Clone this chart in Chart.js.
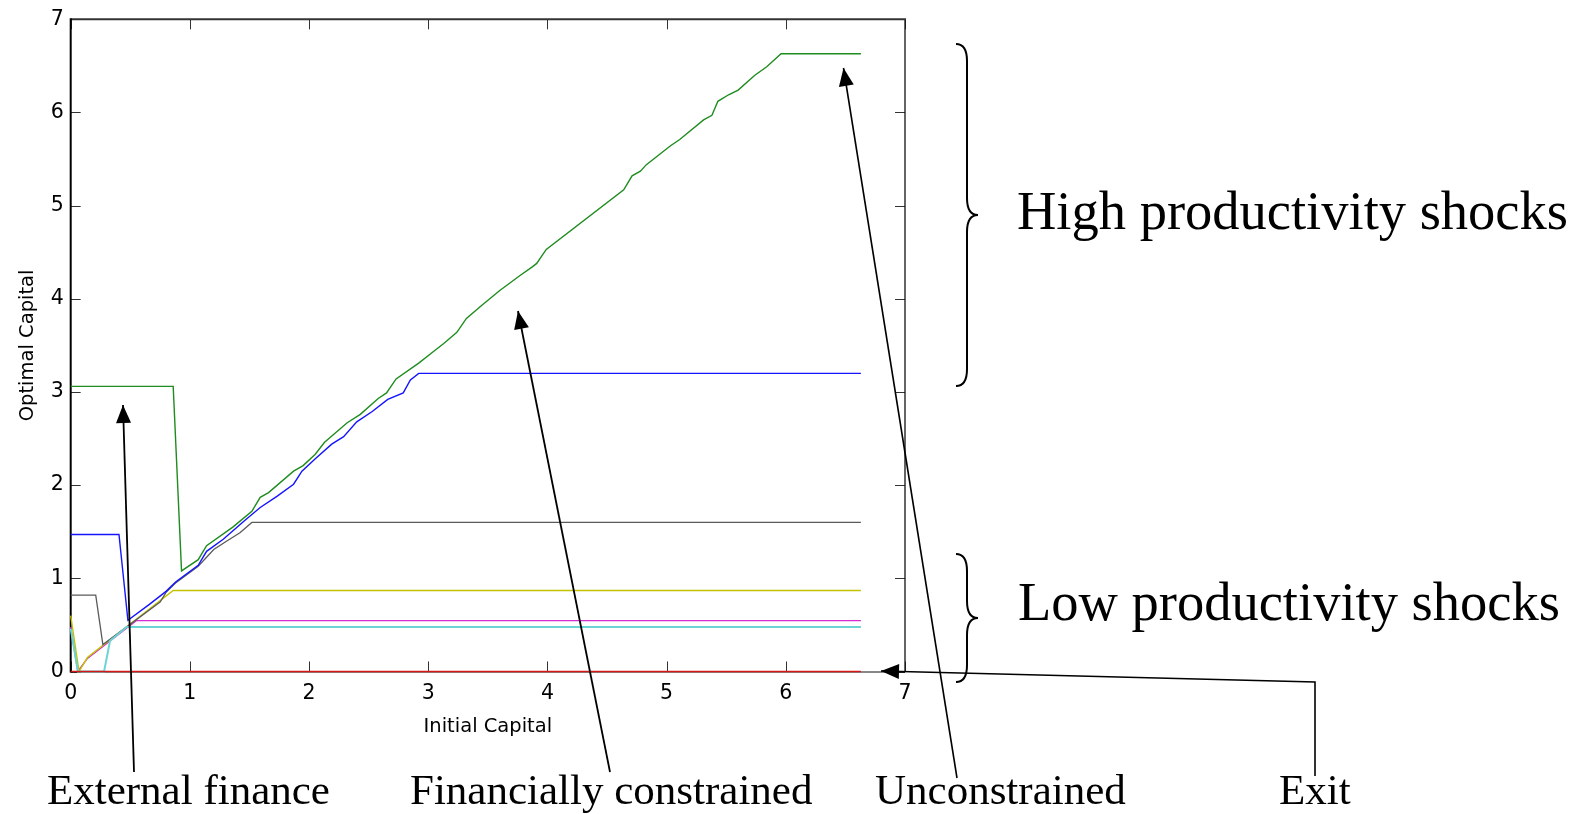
<!DOCTYPE html>
<html>
<head>
<meta charset="utf-8">
<script src="https://cdn.jsdelivr.net/npm/chart.js@4.4.1/dist/chart.umd.min.js"></script>
<style>
html,body{margin:0;padding:0;background:#fff;}
canvas{display:block;}
</style>
</head>
<body>
<canvas id="c" width="1579" height="814"></canvas>
<script>
// ---- data ----
const xTickValues = [0, 1, 2, 3, 4, 5, 6, 7];
const yTickValues = [0, 1, 2, 3, 4, 5, 6, 7];
const xAxisTitle = 'Initial Capital';
const yAxisTitle = 'Optimal Capital';

const redX = [0, 6.63];
const redY = [0, 0];

const greenX = [0, 0.86, 0.93, 1.07, 1.14, 1.36, 1.52, 1.59, 1.66, 1.87, 1.95, 2.05, 2.13, 2.32, 2.43, 2.58, 2.65, 2.73, 2.92, 3.06, 3.13, 3.24, 3.32, 3.45, 3.60, 3.77, 3.87, 3.91, 3.99, 4.64, 4.71, 4.78, 4.83, 5.03, 5.11, 5.31, 5.38, 5.43, 5.52, 5.60, 5.74, 5.84, 5.96, 6.63];
const greenY = [3.06, 3.06, 1.08, 1.20, 1.35, 1.55, 1.72, 1.87, 1.92, 2.15, 2.21, 2.33, 2.46, 2.67, 2.76, 2.93, 2.99, 3.14, 3.31, 3.45, 3.52, 3.64, 3.79, 3.93, 4.09, 4.25, 4.34, 4.38, 4.53, 5.17, 5.32, 5.37, 5.44, 5.64, 5.71, 5.92, 5.97, 6.12, 6.19, 6.24, 6.40, 6.49, 6.63, 6.63];

const blueX = [0, 0.405, 0.48, 0.66, 0.80, 0.88, 1.07, 1.14, 1.28, 1.46, 1.59, 1.73, 1.87, 1.94, 2.05, 2.19, 2.29, 2.40, 2.53, 2.66, 2.79, 2.85, 2.92, 6.63];
const blueY = [1.47, 1.47, 0.55, 0.72, 0.86, 0.96, 1.14, 1.29, 1.42, 1.62, 1.76, 1.88, 2.01, 2.15, 2.28, 2.44, 2.52, 2.68, 2.79, 2.92, 2.99, 3.13, 3.20, 3.20];

const grayX = [0, 0.21, 0.27, 0.75, 0.80, 0.88, 1.07, 1.20, 1.31, 1.42, 1.52, 6.63];
const grayY = [0.82, 0.82, 0.29, 0.745, 0.85, 0.95, 1.13, 1.31, 1.40, 1.49, 1.60, 1.60];

const yellowX = [0, 0.07, 0.14, 0.86, 6.63];
const yellowY = [0.60, 0, 0.15, 0.87, 0.87];

const magentaX = [0, 0.06, 0.14, 0.55, 6.63];
const magentaY = [0.48, 0, 0.14, 0.546, 0.546];

const cyanX = [0, 0.06, 0.28, 0.33, 0.47, 6.63];
const cyanY = [0.46, 0, 0, 0.33, 0.478, 0.478];

const rightLabels = ['High productivity shocks', 'Low productivity shocks'];
const bottomLabels = ['External finance', 'Financially constrained', 'Unconstrained', 'Exit'];

// ---- helpers ----
const pts = (xs, ys) => xs.map((v, i) => ({x: v, y: ys[i]}));
const line = (xs, ys, color, w) => ({
  data: pts(xs, ys), borderColor: color, borderWidth: w, showLine: true,
  pointRadius: 0, pointHoverRadius: 0, tension: 0, fill: false, clip: false
});

const frame = {
  id: 'frame',
  beforeDatasetsDraw(chart) {
    const {ctx, chartArea: a, scales: {x, y}} = chart;
    ctx.save();
    ctx.strokeStyle = '#333';
    ctx.lineWidth = 1;
    ctx.beginPath();
    xTickValues.forEach(v => {
      const px = Math.round(x.getPixelForValue(v)) + 0.5;
      ctx.moveTo(px, a.bottom); ctx.lineTo(px, a.bottom - 10);
      ctx.moveTo(px, a.top); ctx.lineTo(px, a.top + 10);
    });
    yTickValues.forEach(v => {
      const py = Math.round(y.getPixelForValue(v)) + 0.5;
      ctx.moveTo(a.left, py); ctx.lineTo(a.left + 10, py);
      ctx.moveTo(a.right, py); ctx.lineTo(a.right - 10, py);
    });
    ctx.stroke();
    // box
    ctx.strokeStyle = '#111';
    ctx.lineWidth = 1;
    ctx.beginPath();
    ctx.moveTo(a.left, a.bottom + 0.5); ctx.lineTo(a.right, a.bottom + 0.5);
    ctx.stroke();
    ctx.lineWidth = 1.3;
    ctx.beginPath();
    ctx.moveTo(a.right, a.top); ctx.lineTo(a.right, a.bottom);
    ctx.stroke();
    ctx.strokeStyle = '#333';
    ctx.lineWidth = 2;
    ctx.beginPath();
    ctx.moveTo(a.left, a.top); ctx.lineTo(a.right + 1, a.top);
    ctx.stroke();
    ctx.strokeStyle = '#000';
    ctx.lineWidth = 2;
    ctx.beginPath();
    ctx.moveTo(a.left, a.top - 1); ctx.lineTo(a.left, a.bottom + 1);
    ctx.stroke();
    ctx.restore();
  }
};

function arrowHead(ctx, fx, fy, tx, ty, len, half) {
  const ang = Math.atan2(ty - fy, tx - fx);
  const bx = tx - len * Math.cos(ang), by = ty - len * Math.sin(ang);
  const nx = -Math.sin(ang), ny = Math.cos(ang);
  ctx.beginPath();
  ctx.moveTo(tx, ty);
  ctx.lineTo(bx + nx * half, by + ny * half);
  ctx.lineTo(bx - nx * half, by - ny * half);
  ctx.closePath();
  ctx.fill();
}
function arrow(ctx, path, w) {
  ctx.lineWidth = w;
  ctx.beginPath();
  ctx.moveTo(path[0][0], path[0][1]);
  for (let i = 1; i < path.length; i++) ctx.lineTo(path[i][0], path[i][1]);
  ctx.stroke();
  const p = path[path.length - 2], q = path[path.length - 1];
  arrowHead(ctx, p[0], p[1], q[0], q[1], 18, 7.5);
}
function brace(ctx, x0, xMid, xTip, yTop, yMidB, yBot) {
  const r = 17;
  ctx.beginPath();
  ctx.moveTo(x0, yTop);
  ctx.quadraticCurveTo(xMid, yTop, xMid, yTop + r);
  ctx.lineTo(xMid, yMidB - r);
  ctx.quadraticCurveTo(xMid, yMidB, xTip, yMidB);
  ctx.quadraticCurveTo(xMid, yMidB, xMid, yMidB + r);
  ctx.lineTo(xMid, yBot - r);
  ctx.quadraticCurveTo(xMid, yBot, x0, yBot);
  ctx.stroke();
}

const annotations = {
  id: 'annotations',
  afterDraw(chart) {
    const ctx = chart.ctx;
    ctx.save();
    ctx.strokeStyle = '#000';
    ctx.fillStyle = '#000';
    ctx.lineCap = 'butt';
    // braces
    ctx.lineWidth = 2;
    brace(ctx, 956, 967, 978, 44, 215, 386);
    brace(ctx, 956, 967, 978, 554, 618, 682);
    // arrows
    arrow(ctx, [[134, 772], [123, 405]], 1.8);
    arrow(ctx, [[610, 772], [518, 311]], 1.8);
    arrow(ctx, [[957, 778], [843.5, 68]], 1.6);
    arrow(ctx, [[1315, 776], [1315, 682], [881, 671]], 1.6);
    // texts
    ctx.textBaseline = 'alphabetic';
    ctx.textAlign = 'left';
    ctx.font = '54.5px "Liberation Serif"';
    ctx.fillText(rightLabels[0], 1017, 229);
    ctx.fillText(rightLabels[1], 1018, 620);
    ctx.font = '43px "Liberation Serif"';
    ctx.fillText(bottomLabels[0], 47, 804);
    ctx.fillText(bottomLabels[1], 410, 804);
    ctx.fillText(bottomLabels[2], 875, 804);
    ctx.fillText(bottomLabels[3], 1279, 804);
    ctx.restore();
  }
};

const tickFont = {family: '"DejaVu Sans"', size: 20.5};
const titleFont = {family: '"DejaVu Sans"', size: 19.5};

new Chart(document.getElementById('c'), {
  type: 'scatter',
  data: {
    datasets: [
      line(redX, redY, '#d41818', 1.6),
      line(blueX, blueY, '#1414ff', 1.4),
      line(greenX, greenY, '#1e8c1e', 1.4),
      line(cyanX, cyanY, '#6cd4d4', 2),
      line(grayX, grayY, '#5a5a5a', 1.3),
      line(yellowX, yellowY, '#c2c200', 1.4),
      line(magentaX, magentaY, '#d22ed2', 1.4)
    ]
  },
  options: {
    responsive: false,
    devicePixelRatio: 1,
    animation: false,
    events: [],
    layout: {padding: {left: 0, top: 15.7, right: 674, bottom: 0}},
    plugins: {legend: {display: false}, tooltip: {enabled: false}},
    scales: {
      x: {
        type: 'linear', min: 0, max: 7,
        afterBuildTicks: s => { s.ticks = xTickValues.map(v => ({value: v})); },
        afterFit: s => { s.height = 142.5; },
        grid: {display: false, drawTicks: false},
        border: {display: false},
        ticks: {font: tickFont, color: '#000', padding: 9.5, maxRotation: 0, autoSkip: false, callback: v => String(v)},
        title: {display: true, text: xAxisTitle, color: '#000', font: titleFont, padding: {top: 0, bottom: 75}}
      },
      y: {
        type: 'linear', min: 0, max: 7,
        afterBuildTicks: s => { s.ticks = yTickValues.map(v => ({value: v})); },
        afterFit: s => { s.width = 70.7; },
        grid: {display: false, drawTicks: false},
        border: {display: false},
        ticks: {font: tickFont, color: '#000', padding: 7, autoSkip: false, callback: v => String(v)},
        title: {display: true, text: yAxisTitle, color: '#000', font: titleFont, padding: {top: 16, bottom: 0}}
      }
    }
  },
  plugins: [frame, annotations]
});
</script>
</body>
</html>
